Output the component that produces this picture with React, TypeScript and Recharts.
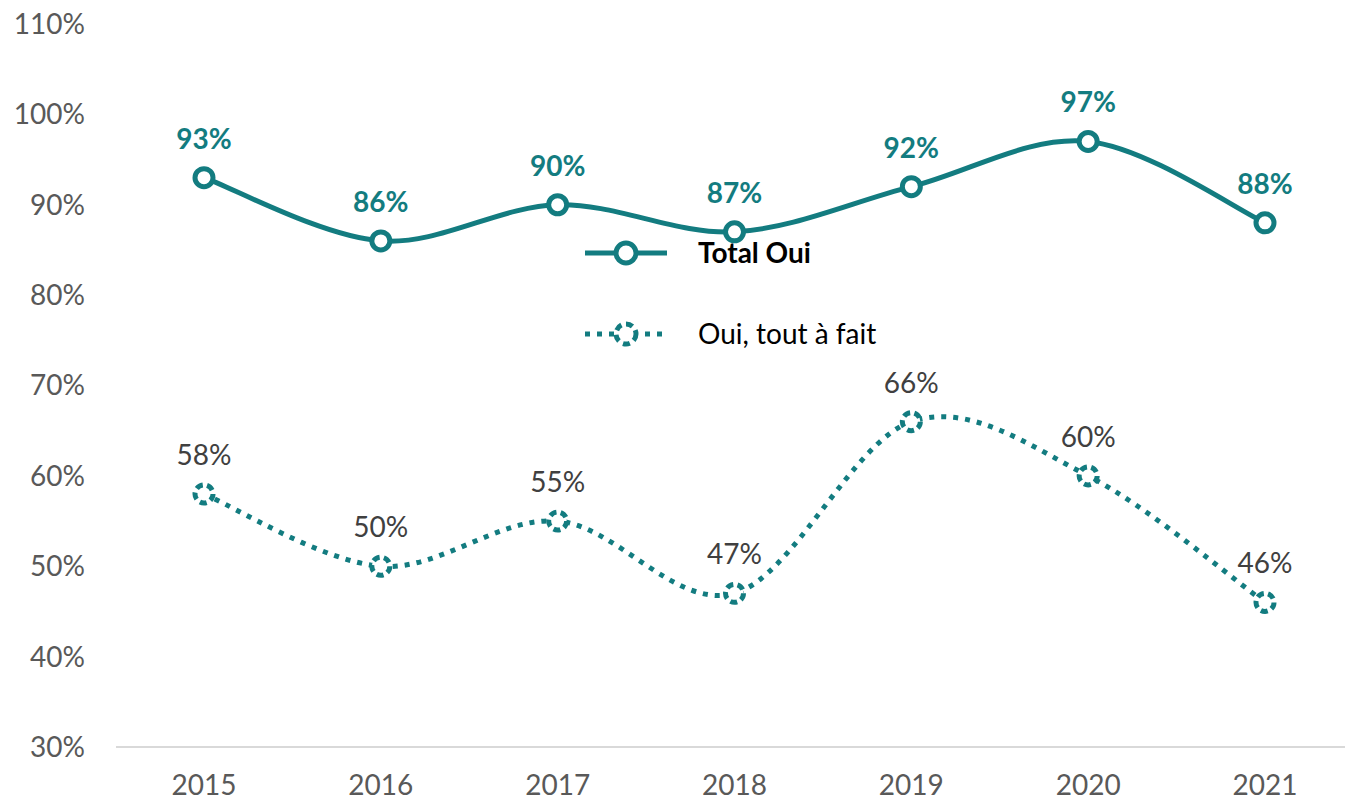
import React from "react";
import { LineChart, Line, XAxis, YAxis, LabelList } from "recharts";

const years = ["2015", "2016", "2017", "2018", "2019", "2020", "2021"];
const totalOui = [93, 86, 90, 87, 92, 97, 88];
const ouiToutAFait = [58, 50, 55, 47, 66, 60, 46];
const yTicks = [30, 40, 50, 60, 70, 80, 90, 100, 110];
const seriesNames = ["Total Oui", "Oui, tout à fait"];

const data = years.map((y, i) => ({ year: y, total: totalOui[i], tout: ouiToutAFait[i] }));

const TEAL = "#137C80";
const GREY = "#595959";
const FONT = "Lato, 'Open Sans', sans-serif";

// Catmull-Rom-like smoothing (similar to Excel smoothed lines)
const smoothCurve: any = (context: any) => {
  let pts: number[][] = [];
  return {
    areaStart() {},
    areaEnd() {},
    lineStart() {
      pts = [];
    },
    point(x: number, y: number) {
      pts.push([+x, +y]);
    },
    lineEnd() {
      if (!pts.length) return;
      context.moveTo(pts[0][0], pts[0][1]);
      for (let i = 0; i < pts.length - 1; i++) {
        const p0 = pts[i - 1] || pts[i];
        const p1 = pts[i];
        const p2 = pts[i + 1];
        const p3 = pts[i + 2] || p2;
        const c1x = p1[0] + (p2[0] - p0[0]) / 6;
        const c1y = p1[1] + (p2[1] - p0[1]) / 6;
        const c2x = p2[0] - (p3[0] - p1[0]) / 6;
        const c2y = p2[1] - (p3[1] - p1[1]) / 6;
        context.bezierCurveTo(c1x, c1y, c2x, c2y, p2[0], p2[1]);
      }
    },
  };
};

const SolidDot = (props: any) => {
  const { cx, cy } = props;
  if (cx == null || cy == null) return null;
  return <circle cx={cx} cy={cy} r={9} fill="#fff" stroke={TEAL} strokeWidth={5} />;
};

const DashDot = (props: any) => {
  const { cx, cy } = props;
  if (cx == null || cy == null) return null;
  return (
    <circle cx={cx} cy={cy} r={9} fill="#fff" stroke={TEAL} strokeWidth={5} strokeDasharray="7 4.3" />
  );
};

const makeLabel = (bold: boolean, color: string) => (props: any) => {
  const { x, y, value } = props;
  return (
    <text
      x={x}
      y={y - 29}
      textAnchor="middle"
      fontFamily={FONT}
      fontSize={28}
      fontWeight={bold ? 700 : 400}
      fill={color}
    >
      {value}%
    </text>
  );
};

const LegendOverlay = () => (
  <svg width={340} height={140} style={{ position: "absolute", left: 580, top: 225 }}>
    <line x1={5} x2={87} y1={28} y2={28} stroke={TEAL} strokeWidth={5} />
    <circle cx={46} cy={28} r={10} fill="#fff" stroke={TEAL} strokeWidth={5} />
    <text x={118} y={38} fontFamily={FONT} fontSize={28} fontWeight={700} fill="#000">
      {seriesNames[0]}
    </text>
    <line x1={5} x2={87} y1={109} y2={109} stroke={TEAL} strokeWidth={5} strokeDasharray="5 7" />
    <circle cx={46} cy={109} r={10} fill="#fff" stroke={TEAL} strokeWidth={5} strokeDasharray="7 4.7" />
    <text x={118} y={119} fontFamily={FONT} fontSize={28} fontWeight={400} fill="#000">
      {seriesNames[1]}
    </text>
  </svg>
);

export default function App() {
  return (
    <div style={{ position: "absolute", left: 0, top: 0, width: 1346, height: 802, background: "#fff" }}>
      <LineChart width={1346} height={802} data={data} margin={{ top: 24, right: 1, bottom: 0, left: 0 }}>
        <XAxis
          dataKey="year"
          padding={{ left: 88, right: 80 }}
          axisLine={{ stroke: "#d9d9d9", strokeWidth: 2 }}
          tickLine={false}
          tickSize={0}
          tickMargin={28}
          height={55}
          tick={{ fill: GREY, fontSize: 28, fontFamily: FONT }}
        />
        <YAxis
          domain={[30, 110]}
          ticks={yTicks}
          interval={0}
          width={116}
          axisLine={false}
          tickLine={false}
          tickSize={0}
          tickMargin={31}
          tickFormatter={(v: number) => `${v}%`}
          tick={{ fill: GREY, fontSize: 28, fontFamily: FONT }}
        />
        <Line
          name={seriesNames[1]}
          dataKey="tout"
          type={smoothCurve}
          stroke={TEAL}
          strokeWidth={5}
          strokeDasharray="5 7"
          dot={<DashDot />}
          activeDot={false}
          isAnimationActive={false}
        >
          <LabelList dataKey="tout" content={makeLabel(false, "#404040")} />
        </Line>
        <Line
          name={seriesNames[0]}
          dataKey="total"
          type={smoothCurve}
          stroke={TEAL}
          strokeWidth={5}
          dot={<SolidDot />}
          activeDot={false}
          isAnimationActive={false}
        >
          <LabelList dataKey="total" content={makeLabel(true, TEAL)} />
        </Line>
      </LineChart>
      <LegendOverlay />
    </div>
  );
}
